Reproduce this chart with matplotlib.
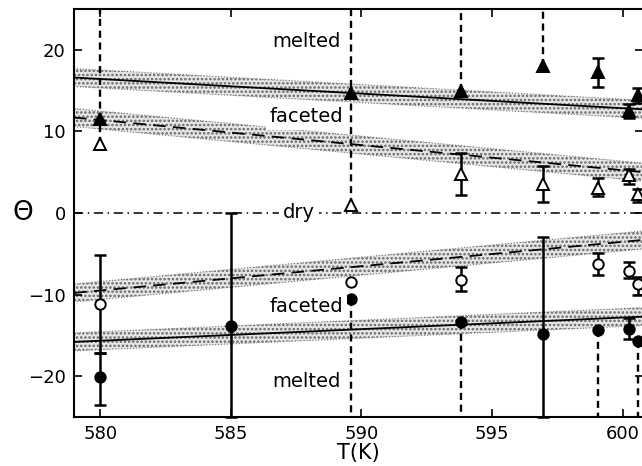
import numpy as np
import matplotlib
matplotlib.use("Agg")
import matplotlib.pyplot as plt

# --- data ---------------------------------------------------------------
# fitted lines (start / end of x range) and half width of the shaded band
line_T = [579.0, 600.8]
fit_melt_up = [16.6, 12.7]
fit_fac_up = [11.7, 5.0]
fit_fac_lo = [-9.8, -3.3]
fit_melt_lo = [-15.8, -12.7]
band_hw = 1.1

# filled triangles (melted, theta > 0)
mu_T = [580.0, 589.6, 593.8, 596.95, 599.05, 600.25, 600.6]
mu_val = [11.5, 14.7, 14.9, 18.0, 17.3, 12.5, 14.4]
mu_lo = [np.nan, np.nan, np.nan, np.nan, 15.5, 11.7, 13.5]
mu_hi = [np.nan, np.nan, np.nan, np.nan, 19.0, 13.3, 15.3]

# open triangles (faceted, theta > 0)
fu_T = [580.0, 589.6, 593.8, 596.95, 599.05, 600.25, 600.6]
fu_val = [8.4, 1.0, 4.8, 3.6, 3.1, 4.7, 2.3]
fu_lo = [np.nan, np.nan, 2.2, 1.3, 2.1, 3.6, 1.4]
fu_hi = [np.nan, np.nan, 7.3, 5.8, 4.3, 5.4, 3.0]

# open circles (faceted, theta < 0)
fl_T = [580.0, 589.6, 593.8, 599.05, 600.25, 600.6]
fl_val = [-11.2, -8.4, -8.2, -6.3, -7.1, -8.7]
fl_lo = [-17.2, np.nan, -9.6, -7.6, -8.0, -10.0]
fl_hi = [-5.2, np.nan, -6.6, -4.9, -6.0, -7.8]

# filled circles (melted, theta < 0)
ml_T = [580.0, 585.0, 589.6, 593.8, 596.95, 599.05, 600.25, 600.6]
ml_val = [-20.1, -13.9, -10.5, -13.4, -14.8, -14.3, -14.2, -15.7]
ml_lo = [-23.5, -25.0, np.nan, np.nan, -25.0, np.nan, -15.5, np.nan]
ml_hi = [-17.2, 0.0, np.nan, np.nan, -3.0, np.nan, -12.9, np.nan]

# limits (dashed lines running to the frame)
lim_up_T = [580.0, 589.6, 593.8, 596.95]
lim_up_from = [8.4, 1.0, 14.9, 18.0]
lim_dn_T = [589.6, 593.8, 599.05, 600.6]
lim_dn_from = [-10.5, -13.4, -14.3, -15.7]

labels = ["melted", "faceted", "dry", "faceted", "melted"]
label_T = [587.9, 587.9, 587.6, 587.9, 587.9]
label_y = [21.0, 11.8, 0.0, -11.4, -20.6]

xlim = (579.0, 600.8)
ylim = (-25, 25)

# --- figure ---------------------------------------------------------------
fig = plt.figure(figsize=(6.42, 4.66), dpi=100)
ax = fig.add_axes([0.1153, 0.1052, 0.887, 0.8755])

plt.rcParams["hatch.linewidth"] = 1.2
for fit, ls in [(fit_melt_up, "-"), (fit_fac_up, "--"),
                (fit_fac_lo, "--"), (fit_melt_lo, "-")]:
    f = np.array(fit)
    ax.fill_between(line_T, f - band_hw, f + band_hw, facecolor="0.9",
                    edgecolor="0.4", hatch="....", linewidth=0, zorder=1)
    ax.plot(line_T, f - band_hw, color="0.45", lw=0.8, ls=":", zorder=1)
    ax.plot(line_T, f + band_hw, color="0.45", lw=0.8, ls=":", zorder=1)
    if ls == "-":
        ax.plot(line_T, fit, color="k", lw=1.3, zorder=2)
    else:
        ax.plot(line_T, fit, color="k", lw=1.3, dashes=(7, 4), zorder=2)

# dry line
ax.plot(xlim, [0, 0], color="k", lw=1.1, dashes=(6, 3, 1, 3), zorder=2)

# limit lines
for t, y0 in zip(lim_up_T, lim_up_from):
    ax.plot([t, t], [y0, ylim[1]], color="k", lw=1.7, dashes=(3, 2), zorder=3)
for t, y0 in zip(lim_dn_T, lim_dn_from):
    ax.plot([t, t], [y0, ylim[0]], color="k", lw=1.7, dashes=(3, 2), zorder=3)


def draw(T, val, lo, hi, marker, face, ms):
    T = np.array(T); val = np.array(val); lo = np.array(lo); hi = np.array(hi)
    m = ~np.isnan(lo)
    ax.errorbar(T[m], val[m], yerr=[val[m] - lo[m], hi[m] - val[m]], fmt="none",
                ecolor="k", elinewidth=1.8, capsize=4, capthick=1.8, zorder=4,
                clip_on=False)
    ax.plot(T, val, ls="none", marker=marker, ms=ms, mfc=face, mec="k",
            mew=1.4, zorder=5, clip_on=False)


draw(mu_T, mu_val, mu_lo, mu_hi, "^", "k", 8)
draw(fu_T, fu_val, fu_lo, fu_hi, "^", "w", 8)
draw(fl_T, fl_val, fl_lo, fl_hi, "o", "w", 7.5)
draw(ml_T, ml_val, ml_lo, ml_hi, "o", "k", 7.5)

for s, t, y in zip(labels, label_T, label_y):
    ax.text(t, y, s, ha="center", va="center", fontsize=14, zorder=6,
            bbox=dict(facecolor="white", edgecolor="none", pad=3))

ax.set_xlim(xlim)
ax.set_ylim(ylim)
ax.set_xticks([580, 585, 590, 595, 600])
ax.set_yticks([-20, -10, 0, 10, 20])
ax.set_yticklabels(["\u221220", "\u221210", "0", "10", "20"])
ax.tick_params(direction="in", top=True, right=True, length=6, width=1.2,
               labelsize=13, pad=6)
for sp in ax.spines.values():
    sp.set_linewidth(1.5)

ax.set_xlabel("T(K)", fontsize=15, labelpad=0)
ax.set_ylabel("\u0398", fontsize=19, rotation=0, va="center")
ax.yaxis.set_label_coords(-0.09, 0.5)

fig.savefig("out.png", dpi=100)
